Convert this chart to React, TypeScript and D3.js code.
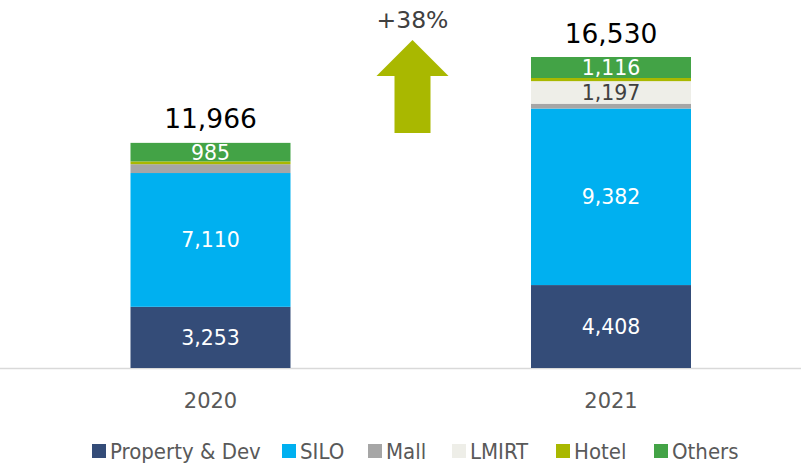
import React from "react";
import * as d3 from "d3";

const categories = ["2020", "2021"];
const seriesNames = ["Property & Dev", "SILO", "Mall", "LMIRT", "Hotel", "Others"];
const propertyDev = [3253, 4408];
const silo = [7110, 9382];
const mall = [470, 260];
const lmirt = [0, 1197];
const hotel = [148, 167];
const others = [985, 1116];
const totals = [11966, 16530];
const growthLabel = "+38%";

const colors = ["#344C78", "#00B0F0", "#A6A6A6", "#EEEEE8", "#A9B800", "#43A346"];
const labelColors = ["#FFFFFF", "#FFFFFF", null, "#404040", null, "#FFFFFF"];

const W = 801;
const H = 464;
const FONT = "'DejaVu Sans', sans-serif";
const LEGEND_FONT = "'DejaVu Sans Condensed', 'DejaVu Sans', sans-serif";

export default function App() {
  const seriesValues = [propertyDev, silo, mall, lmirt, hotel, others];
  const rows = categories.map((c, i) => {
    const r: any = { cat: c };
    seriesNames.forEach((s, k) => (r[s] = seriesValues[k][i]));
    return r;
  });
  const stacked = d3.stack<any>().keys(seriesNames)(rows);

  const x = d3.scalePoint<string>().domain(categories).range([210.5, 611]);
  const y = d3.scaleLinear().domain([0, 16530]).range([368, 57]);
  const barW = 160;
  const fmt = d3.format(",");

  const legendX = [92, 282, 368, 452, 556, 654];

  const ax = 412.5;
  const arrowPath = d3.path();
  arrowPath.moveTo(ax, 40);
  arrowPath.lineTo(ax + 36, 76);
  arrowPath.lineTo(ax + 18, 76);
  arrowPath.lineTo(ax + 18, 133);
  arrowPath.lineTo(ax - 18, 133);
  arrowPath.lineTo(ax - 18, 76);
  arrowPath.lineTo(ax - 36, 76);
  arrowPath.closePath();

  return (
    <svg
      width={W}
      height={H}
      style={{ position: "absolute", left: 0, top: 0, background: "#fff" }}
      fontFamily={FONT}
    >
      <line x1={0} x2={801} y1={368.5} y2={368.5} stroke="#D9D9D9" strokeWidth={1.5} />
      {stacked.map((s, k) => (
        <g key={s.key}>
          {s.map((d, i) => {
            const y0 = y(d[0]);
            const y1 = y(d[1]);
            const h = y0 - y1;
            if (h <= 0) return null;
            return (
              <rect
                key={i}
                x={(x(categories[i]) as number) - barW / 2}
                y={y1}
                width={barW}
                height={h}
                fill={colors[k]}
              />
            );
          })}
        </g>
      ))}
      {stacked.map((s, k) =>
        labelColors[k]
          ? s.map((d, i) => {
              const v = seriesValues[k][i];
              if (!v) return null;
              return (
                <text
                  key={s.key + i}
                  x={x(categories[i]) as number}
                  y={(y(d[0]) + y(d[1])) / 2}
                  dy="0.37em"
                  textAnchor="middle"
                  fill={labelColors[k] as string}
                  fontSize={20.5}
                >
                  {fmt(v)}
                </text>
              );
            })
          : null
      )}
      {categories.map((c, i) => (
        <text
          key={"t" + c}
          x={x(c) as number}
          y={y(totals[i]) - 14.5}
          textAnchor="middle"
          fill="#000"
          fontSize={26.5}
        >
          {fmt(totals[i])}
        </text>
      ))}
      {categories.map((c) => (
        <text
          key={"c" + c}
          x={x(c) as number}
          y={407.5}
          textAnchor="middle"
          fill="#595959"
          fontSize={21}
        >
          {c}
        </text>
      ))}
      <path d={arrowPath.toString()} fill="#A9B800" />
      <text x={ax} y={27.5} textAnchor="middle" fill="#404040" fontSize={23.5}>
        {growthLabel}
      </text>
      {seriesNames.map((s, k) => (
        <g key={"l" + s}>
          <rect x={legendX[k]} y={444} width={14} height={14} fill={colors[k]} />
          <text
            x={legendX[k] + 18}
            y={458.5}
            fill="#595959"
            fontSize={22}
            fontFamily={LEGEND_FONT}
          >
            {s}
          </text>
        </g>
      ))}
    </svg>
  );
}
